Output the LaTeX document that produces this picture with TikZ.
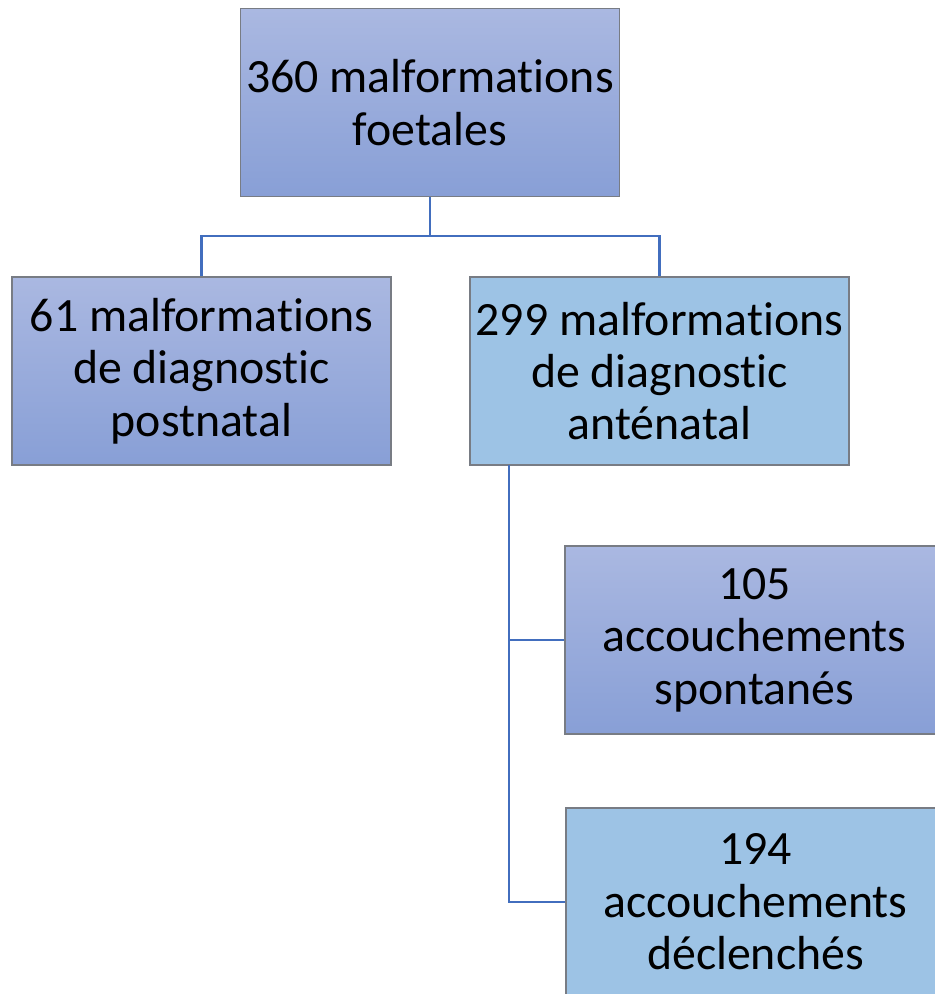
\documentclass[tikz,border=0pt]{standalone}
\usepackage{fontspec}
\setmainfont[RawFeature={-liga;-dlig;-clig}]{Carlito}
\usepackage{tikz}
\usetikzlibrary{positioning}
\definecolor{boxtop}{RGB}{170,184,225}
\definecolor{boxbot}{RGB}{136,159,214}
\definecolor{boxflat}{RGB}{157,195,229}
\definecolor{boxline}{RGB}{120,124,132}
\definecolor{linkblue}{RGB}{66,110,190}
\tikzset{
  box/.style={rectangle,draw=boxline,line width=0.6pt,minimum width=7.58cm,minimum height=3.76cm,
    align=center,inner sep=0pt,font=\fontsize{27.2}{29.8}\selectfont},
  shadebox/.style={box,top color=boxtop,bottom color=boxbot},
  flatbox/.style={box,fill=boxflat},
  link/.style={draw=linkblue,line width=1.4pt},
}

\begin{document}
\begin{tikzpicture}
        \useasboundingbox (0,0) rectangle (18.7,-19.88);
        \clip (0,0) rectangle (18.7,-19.88);
        \node (total) at (8.6,-2.05) [shadebox] {360 malformations\\foetales};
        \node (post) at (4.03,-7.42) [shadebox] {61 malformations\\de diagnostic\\postnatal};
        \node (ante) at (13.19,-7.42) [flatbox] {299 malformations\\de diagnostic\\anténatal};
        \node (spont) at (15.09,-12.8) [shadebox] {105\\accouchements\\spontanés};
        \node (decl) at (15.11,-18.04) [flatbox] {194\\accouchements\\déclenchés};
        \coordinate (split) at (8.6,-4.72);
        \coordinate (trunk) at (10.18,-9.3);
        \draw [link] (total) -- (split) -| (post);
        \draw [link] (split) -| (ante);
        \draw [link] (trunk) |- (spont);
        \draw [link] (trunk) |- (decl);
      \end{tikzpicture}
\end{document}
